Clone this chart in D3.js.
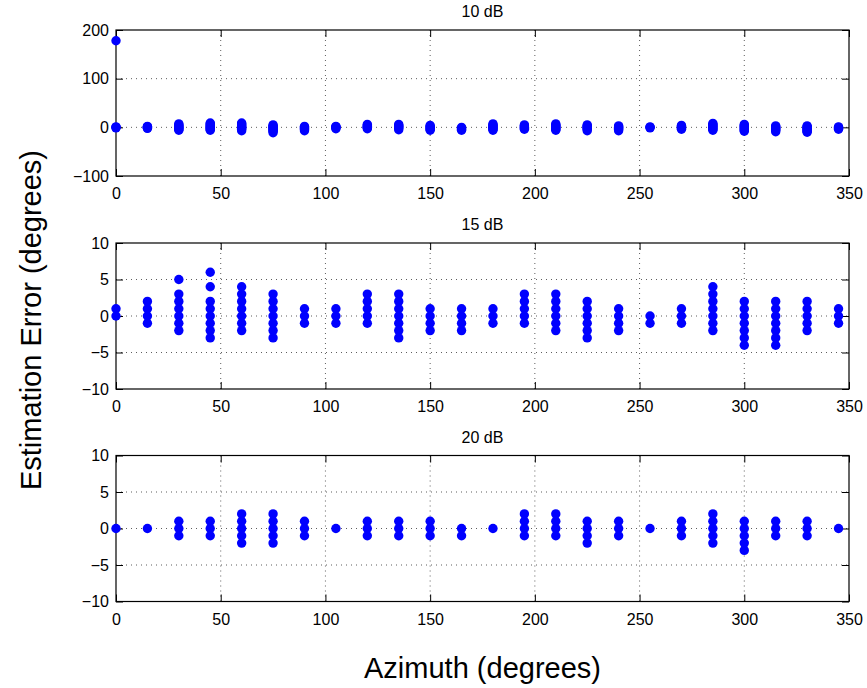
<!DOCTYPE html>
<html><head><meta charset="utf-8">
<script src="https://cdn.jsdelivr.net/npm/d3@7"></script>
<style>
html,body{margin:0;padding:0;background:#fff;}
svg{display:block;font-family:"Liberation Sans",Arial,Helvetica,sans-serif;}
</style></head><body>
<svg id="chart" width="867" height="688"></svg>
<script>
const azimuth = [0,15,30,45,60,75,90,105,120,135,150,165,180,195,210,225,240,255,270,285,300,315,330,345];
const xTicks = [0,50,100,150,200,250,300,350];
const titles = ["10 dB","15 dB","20 dB"];
const yTicks10 = [-100,0,100,200];
const yTicksSmall = [-10,-5,0,5,10];

// estimation errors per azimuth (degrees)
const err10 = [
  [178,1,0,-1],[2,1,0,-1,-2],[7,5,3,1,0,-2,-4,-6],[9,7,5,3,1,0,-2,-4,-6],
  [9,7,5,3,1,0,-2,-4,-7],[5,3,1,0,-2,-4,-6,-8,-11],[2,0,-2,-4,-7],[2,1,0,-1,-3],
  [6,4,2,0,-1,-3],[6,4,2,0,-2,-5],[4,2,0,-2,-4,-6],[0,-2,-4,-6],
  [7,5,3,1,0,-2,-4,-6],[5,3,1,0,-2,-4],[7,5,3,1,0,-2,-4,-6],[5,3,1,0,-2,-4,-7],
  [3,1,0,-2,-4,-7],[1,0,-1],[4,2,0,-2,-4],[8,6,4,2,0,-2,-4,-6],
  [6,4,2,0,-2,-4,-6,-8],[3,1,0,-2,-4,-6,-9],[3,1,0,-2,-4,-6,-8,-10],[1,0,-2,-4]
];
const err15 = [
  [1,0],[2,1,0,-1],[5,3,2,1,0,-1,-2],[6,4,2,1,0,-1,-2,-3],
  [4,3,2,1,0,-1,-2],[3,2,1,0,-1,-2,-3],[1,0,-1],[1,0,-1],
  [3,2,1,0,-1],[3,2,1,0,-1,-2,-3],[1,0,-1,-2],[1,0,-1,-2],
  [1,0,-1],[3,2,1,0,-1],[3,2,1,0,-1,-2],[2,1,0,-1,-2,-3],
  [1,0,-1,-2],[0,-1],[1,0,-1],[4,3,2,1,0,-1,-2],
  [2,1,0,-1,-2,-3,-4],[2,1,0,-1,-2,-3,-4],[2,1,0,-1,-2],[1,0,-1]
];
const err20 = [
  [0],[0],[1,0,-1],[1,0,-1],
  [2,1,0,-1,-2],[2,1,0,-1,-2],[1,0,-1],[0],
  [1,0,-1],[1,0,-1],[1,0,-1],[0,-1],
  [0],[2,1,0,-1],[2,1,0,-1],[1,0,-1,-2],
  [1,0,-1],[0],[1,0,-1],[2,1,0,-1,-2],
  [1,0,-1,-2,-3],[1,0,-1],[1,0,-1],[0]
];

const svg = d3.select("#chart");
const left = 116, right = 849, ph = 146;
const tops = [30, 243, 455.5];
const panels = [
  {title:titles[0], data:err10, domain:[-100,200], ticks:yTicks10},
  {title:titles[1], data:err15, domain:[-10,10], ticks:yTicksSmall},
  {title:titles[2], data:err20, domain:[-10,10], ticks:yTicksSmall}
];
const x = d3.scaleLinear().domain([0,350]).range([left,right]);
const tickLen = 7;
const fs = 16;

panels.forEach((p,i)=>{
  const top = tops[i], bottom = top+ph;
  const y = d3.scaleLinear().domain(p.domain).range([bottom,top]);
  const g = svg.append("g");
  // grid
  g.append("g").selectAll("line").data(xTicks.slice(1,-1)).join("line")
    .attr("x1",d=>x(d)).attr("x2",d=>x(d)).attr("y1",top).attr("y2",bottom)
    .attr("stroke","#333").attr("stroke-width",0.8).attr("stroke-dasharray","1,4");
  g.append("g").selectAll("line").data(p.ticks.slice(1,-1)).join("line")
    .attr("y1",d=>y(d)).attr("y2",d=>y(d)).attr("x1",left).attr("x2",right)
    .attr("stroke","#333").attr("stroke-width",0.8).attr("stroke-dasharray","1,4");
  // axes with inward ticks
  const axB = d3.axisBottom(x).tickValues(xTicks).tickSizeInner(-tickLen).tickSizeOuter(0).tickPadding(12);
  const axT = d3.axisTop(x).tickValues(xTicks).tickSizeInner(-tickLen).tickSizeOuter(0).tickFormat("");
  const axL = d3.axisLeft(y).tickValues(p.ticks).tickSizeInner(-tickLen).tickSizeOuter(0).tickPadding(7)
    .tickFormat(d=> d<0 ? "\u2212"+Math.abs(d) : String(d));
  const axR = d3.axisRight(y).tickValues(p.ticks).tickSizeInner(-tickLen).tickSizeOuter(0).tickFormat("");
  [[axB,`translate(0,${bottom})`],[axT,`translate(0,${top})`],[axL,`translate(${left},0)`],[axR,`translate(${right},0)`]].forEach(([ax,tr])=>{
    const a = g.append("g").attr("transform",tr).call(ax);
    a.select(".domain").remove();
    a.selectAll("line").attr("stroke","#000").attr("stroke-width",1);
    a.selectAll("text").attr("fill","#000").attr("font-size",fs).attr("font-family","Liberation Sans, Arial, sans-serif");
  });
  // box
  g.append("rect").attr("x",left).attr("y",top).attr("width",right-left).attr("height",ph)
    .attr("fill","none").attr("stroke","#000").attr("stroke-width",1.2);
  // title
  g.append("text").attr("x",(left+right)/2).attr("y",top-13).attr("text-anchor","middle")
    .attr("font-size",fs).attr("fill","#000").text(p.title);
  // points
  const pts = [];
  p.data.forEach((vals,k)=>vals.forEach(v=>pts.push([azimuth[k],v])));
  g.append("g").selectAll("circle").data(pts).join("circle")
    .attr("cx",d=>x(d[0])).attr("cy",d=>y(d[1])).attr("r",4.7).attr("fill","#0000ff");
});

svg.append("text").attr("x",(left+right)/2).attr("y",678).attr("text-anchor","middle")
  .attr("font-size",29).attr("fill","#000").text("Azimuth (degrees)");
svg.append("text").attr("transform","translate(41,320) rotate(-90)").attr("text-anchor","middle")
  .attr("font-size",29).attr("fill","#000").text("Estimation Error (degrees)");
</script>
</body></html>
